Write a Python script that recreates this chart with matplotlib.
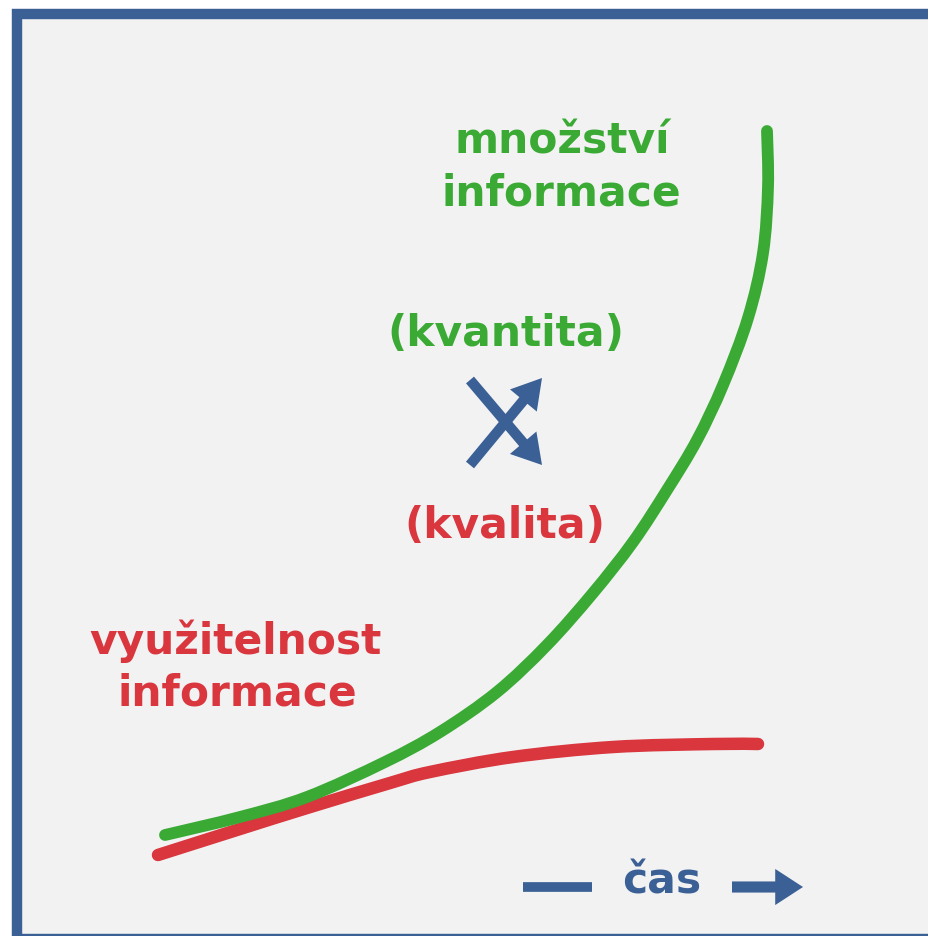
import numpy as np
import matplotlib.pyplot as plt
from matplotlib.patches import Rectangle, PathPatch
from matplotlib.path import Path

# body colours
zelena = "#3aaa35"
cervena = "#d9363e"
modra = "#3b6096"
pozadi = "#f2f2f2"

# curves (pixel space, y down)
green_x = [165, 240, 307, 385, 440, 497, 547, 593, 633, 667, 697, 723, 748, 763, 768, 767]
green_y = [835, 817, 797, 762, 732, 692, 645, 593, 542, 490, 440, 385, 318, 253, 187, 131]
red_x = [158, 240, 307, 390, 430, 513, 613, 713, 758]
red_y = [855, 829, 808, 783, 772, 757, 747, 744, 744]

# labels: text, x, baseline y, colour
labels = [
    ("množství", 562, 154, zelena),
    ("informace", 561, 205, zelena),
    ("(kvantita)", 506, 346, zelena),
    ("(kvalita)", 505, 538, cervena),
    ("využitelnost", 236, 654, cervena),
    ("informace", 237, 706, cervena),
    ("čas", 662, 893, modra),
]


def hladka(xs, ys):
    # smooth bezier path through the read points
    p = np.column_stack([xs, ys]).astype(float)
    q = np.vstack([p[0], p, p[-1]])
    verts = [p[0]]
    codes = [Path.MOVETO]
    for i in range(1, len(q) - 2):
        c1 = q[i] + (q[i + 1] - q[i - 1]) / 6
        c2 = q[i + 1] - (q[i + 2] - q[i]) / 6
        verts += [c1, c2, q[i + 1]]
        codes += [Path.CURVE4] * 3
    return Path(verts, codes)


fig = plt.figure(figsize=(9.29, 9.36), dpi=100)
ax = fig.add_axes([0, 0, 1, 1])
ax.set_xlim(0, 929)
ax.set_ylim(936, 0)
ax.axis("off")

ax.add_patch(Rectangle((17, 14), 930, 925, facecolor=pozadi, edgecolor=modra,
                       linewidth=7.5, zorder=0))

ax.add_patch(PathPatch(hladka(red_x, red_y), fill=False, edgecolor=cervena, lw=9,
                       capstyle="round", joinstyle="round", zorder=2))
ax.add_patch(PathPatch(hladka(green_x, green_y), fill=False, edgecolor=zelena, lw=8.5,
                       capstyle="round", joinstyle="round", zorder=3))

for txt, x, y, c in labels:
    ax.text(x, y, txt, color=c, fontsize=30.5, fontweight="bold",
            family="DejaVu Sans", ha="center", va="baseline")

sipka = dict(width=7.5, headwidth=25, headlength=21, color=modra, lw=0)

# crossing arrows
ax.annotate("", xy=(542, 378), xytext=(470, 465), arrowprops=sipka, zorder=4)
ax.annotate("", xy=(542, 465), xytext=(470, 380), arrowprops=sipka, zorder=4)

# time axis marker
ax.plot([523, 592], [887, 887], color=modra, lw=7, solid_capstyle="butt")
ax.annotate("", xy=(803, 887), xytext=(732, 887),
            arrowprops=dict(width=8, headwidth=26, headlength=20, color=modra, lw=0))

fig.savefig("out.png", dpi=100, facecolor="white")
